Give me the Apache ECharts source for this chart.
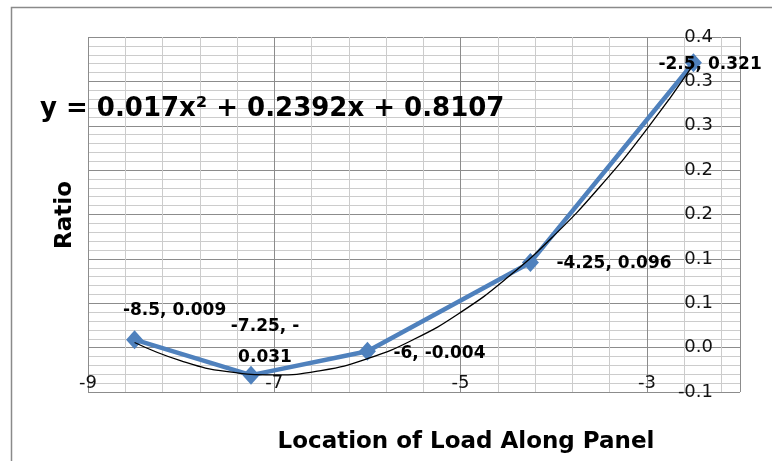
<!DOCTYPE html>
<html>
<head>
<meta charset="utf-8">
<script src="https://cdn.jsdelivr.net/npm/echarts@6/dist/echarts.min.js"></script>
<style>
  html, body { margin: 0; padding: 0; background: #fff; }
  #chart { width: 772px; height: 461px; }
</style>
</head>
<body>
<div id="chart"></div>
<script>
// measured points (location, ratio)
const locations = [-8.5, -7.25, -6, -4.25, -2.5];
const ratios = [0.009, -0.031, -0.004, 0.096, 0.321];

// poly trendline
const trendX = [-8.5, -8, -7.5, -7, -6.5, -6, -5.5, -5, -4.5, -4, -3.5, -3, -2.5];
const trendY = [0.0058, -0.0149, -0.0271, -0.0307, -0.0259, -0.0125, 0.0094, 0.0397, 0.0786, 0.1259, 0.1818, 0.2461, 0.3190];

// excel rounds the value axis labels to one decimal
const yTickLabels = ['-0.1', '0.0', '0.1', '0.1', '0.2', '0.2', '0.3', '0.3', '0.4'];

const xMin = -9, xMax = -2;
const yMin = -0.05, yMax = 0.35, yStep = 0.05;

const FONT = 'DejaVu Sans';
const blue = '#4F81BD';

// where excel put each data label
const labelPlace = [
  { align: 'center', offset: [40, -29] },
  { align: 'center', offset: [14, -33], wrap: true },
  { align: 'left', offset: [26, 2] },
  { align: 'left', offset: [26, 1] },
  { align: 'left', offset: [-35, 2] }
];

var chart = echarts.init(document.getElementById('chart'));

var pointData = locations.map(function (x, i) {
  var p = labelPlace[i];
  return {
    value: [x, ratios[i]],
    label: { align: p.align, offset: p.offset }
  };
});

var option = {
  animation: false,
  grid: { left: 88, right: 32, top: 37, bottom: 69 },
  xAxis: [
    {
      // minor grid lines only
      type: 'value',
      position: 'bottom',
      min: xMin, max: xMax, interval: 0.4,
      z: 0,
      axisLine: { show: false },
      axisTick: { show: false },
      axisLabel: { show: false },
      splitLine: { show: true, lineStyle: { color: '#cccccc', width: 1 } }
    },
    {
      type: 'value',
      position: 'bottom',
      min: xMin, max: xMax, interval: 2,
      z: 1,
      axisLine: { show: false },
      axisTick: { show: false },
      axisLabel: {
        inside: true,
        margin: 0,
        color: '#111',
        fontFamily: FONT,
        fontSize: 18,
        formatter: function (v) { return v === xMax ? '' : String(v); }
      },
      splitLine: { show: true, lineStyle: { color: '#8c8c8c', width: 1 } }
    }
  ],
  yAxis: {
    type: 'value',
    position: 'right',
    min: yMin, max: yMax, interval: yStep,
    axisLine: { show: false },
    axisTick: { show: false },
    axisLabel: {
      inside: true,
      margin: 27,
      color: '#111',
      fontFamily: FONT,
      fontSize: 18,
      formatter: function (v) {
        return yTickLabels[Math.round((v - yMin) / yStep)];
      }
    },
    splitLine: { show: true, lineStyle: { color: '#8c8c8c', width: 1 } },
    minorTick: { show: false, splitNumber: 5 },
    minorSplitLine: { show: true, lineStyle: { color: '#cccccc', width: 1 } }
  },
  graphic: [
    {
      type: 'rect',
      shape: { x: 11.5, y: 7.5, width: 800, height: 500 },
      style: { fill: 'none', stroke: '#8a8a8a', lineWidth: 1.5 },
      silent: true
    },
    {
      type: 'text',
      x: 40, y: 109,
      style: {
        text: 'y = 0.017x² + 0.2392x + 0.8107',
        fontFamily: FONT, fontWeight: 'bold', fontSize: 26,
        fill: '#000', textVerticalAlign: 'middle'
      },
      z: 10
    },
    {
      type: 'text',
      x: 466, y: 442,
      style: {
        text: 'Location of Load Along Panel',
        fontFamily: FONT, fontWeight: 'bold', fontSize: 23,
        fill: '#000', textAlign: 'center', textVerticalAlign: 'middle'
      }
    },
    {
      type: 'text',
      x: 65, y: 215,
      rotation: Math.PI / 2,
      style: {
        text: 'Ratio',
        fontFamily: FONT, fontWeight: 'bold', fontSize: 23,
        fill: '#000', textAlign: 'center', textVerticalAlign: 'middle'
      }
    }
  ],
  series: [
    {
      name: 'Ratio',
      type: 'line',
      xAxisIndex: 1,
      data: pointData,
      symbol: 'diamond',
      symbolSize: [17, 19],
      lineStyle: { color: blue, width: 4.5 },
      itemStyle: { color: blue },
      z: 3,
      label: {
        show: true,
        position: 'inside',
        verticalAlign: 'middle',
        fontFamily: FONT,
        fontWeight: 'bold',
        fontSize: 17,
        lineHeight: 31,
        color: '#000',
        formatter: function (p) {
          var s = p.value[0] + ', ' + p.value[1];
          if (labelPlace[p.dataIndex].wrap) s = s.replace(', -', ', -\n');
          return s;
        }
      }
    },
    {
      name: 'Poly. (Ratio)',
      type: 'line',
      xAxisIndex: 1,
      data: trendX.map(function (x, i) { return [x, trendY[i]]; }),
      smooth: true,
      showSymbol: false,
      lineStyle: { color: '#000', width: 1.3 },
      z: 4
    }
  ]
};

chart.setOption(option);
</script>
</body>
</html>
